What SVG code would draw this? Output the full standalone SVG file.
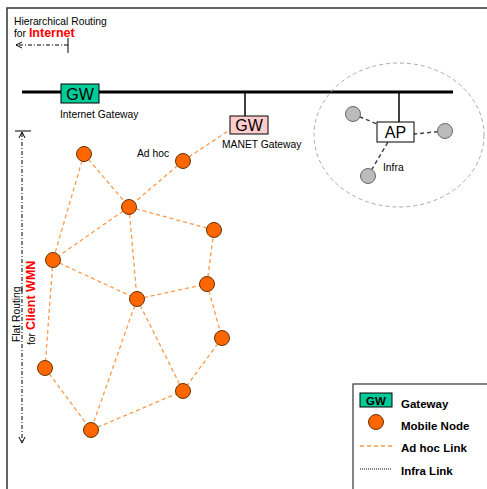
<svg xmlns="http://www.w3.org/2000/svg" width="487" height="489" viewBox="0 0 487 489">
<style>
text{font-family:"Liberation Sans",Arial,sans-serif;fill:#000}
.sm{font-size:10.3px}
.gw{font-size:16px}
.lg{font-size:11.5px;font-weight:bold}
.adhoc{stroke:#FF9A4A;stroke-width:1.3;stroke-dasharray:4,3;fill:none}
.infra{stroke:#444;stroke-width:1.5;stroke-dasharray:4,3;fill:none}
.mn{fill:#FF6600;stroke:#663300;stroke-width:1}
.gr{fill:#BBBBBB;stroke:#666;stroke-width:1}
.dd{stroke:#000;stroke-width:1;stroke-dasharray:4,2,1,2;fill:none}
</style>
<defs>
<marker id="ah" markerWidth="8" markerHeight="8" refX="7" refY="4" orient="auto" markerUnits="userSpaceOnUse">
<path d="M1,1 L7,4 L1,7" fill="none" stroke="#000" stroke-width="1"/>
</marker>
</defs>
<rect width="487" height="489" fill="#fff"/>
<path d="M7,489 V8 H487" fill="none" stroke="#333" stroke-width="1.5"/>

<g id="hier-routing">
<text class="sm" x="14" y="25">Hierarchical Routing</text>
<text class="sm" x="14" y="37">for <tspan style="fill:#f00;font-weight:bold;font-size:12.5px">Internet</tspan></text>
<line class="dd" x1="68" y1="45" x2="16" y2="45" marker-end="url(#ah)"/>
<line x1="68" y1="38" x2="68" y2="53" stroke="#000" stroke-width="1"/>
</g>

<g id="flat-routing">
<line x1="15" y1="131" x2="31" y2="131" stroke="#000" stroke-width="1"/>
<line class="dd" x1="22" y1="290" x2="22" y2="132" marker-end="url(#ah)"/>
<line class="dd" x1="22" y1="290" x2="22" y2="443" marker-end="url(#ah)"/>
<text class="sm" transform="translate(20,342) rotate(-90)">Flat Routing</text>
<text class="sm" transform="translate(35,345) rotate(-90)">for <tspan style="fill:#f00;font-weight:bold;font-size:12.5px">Client WMN</tspan></text>
</g>

<g id="bus">
<line x1="22" y1="92" x2="453" y2="92" stroke="#000" stroke-width="3"/>
<line x1="245" y1="92" x2="245" y2="116" stroke="#000" stroke-width="1.5"/>
<line x1="399" y1="92" x2="399" y2="122" stroke="#000" stroke-width="1.5"/>
</g>

<g id="connectors">
<line class="adhoc" x1="84" y1="154" x2="129" y2="207"/>
<line class="adhoc" x1="84" y1="154" x2="53" y2="260"/>
<line class="adhoc" x1="183" y1="161" x2="129" y2="207"/>
<line class="adhoc" x1="183" y1="161" x2="231" y2="129"/>
<line class="adhoc" x1="129" y1="207" x2="53" y2="260"/>
<line class="adhoc" x1="129" y1="207" x2="214" y2="230"/>
<line class="adhoc" x1="129" y1="207" x2="137" y2="299"/>
<line class="adhoc" x1="53" y1="260" x2="137" y2="299"/>
<line class="adhoc" x1="137" y1="299" x2="207" y2="284"/>
<line class="adhoc" x1="207" y1="284" x2="214" y2="230"/>
<line class="adhoc" x1="207" y1="284" x2="222" y2="338"/>
<line class="adhoc" x1="222" y1="338" x2="183" y2="391"/>
<line class="adhoc" x1="137" y1="299" x2="183" y2="391"/>
<line class="adhoc" x1="137" y1="299" x2="91" y2="430"/>
<line class="adhoc" x1="53" y1="260" x2="45" y2="368"/>
<line class="adhoc" x1="45" y1="368" x2="91" y2="430"/>
<line class="adhoc" x1="91" y1="430" x2="183" y2="391"/>
<line class="infra" x1="353" y1="114" x2="377" y2="124"/>
<line class="infra" x1="445" y1="131" x2="414" y2="134"/>
<line class="infra" x1="368" y1="176" x2="388" y2="142"/>
</g>

<g id="infra-cell">
<ellipse cx="399" cy="135" rx="85" ry="72" fill="none" stroke="#AAA" stroke-width="1" stroke-dasharray="4,3"/>
</g>

<g id="internet-gw">
<rect x="61" y="84" width="38" height="19" fill="#00CC99" stroke="#000" stroke-width="1"/>
<text class="gw" x="80" y="99.5" text-anchor="middle">GW</text>
<text class="sm" x="60" y="118">Internet Gateway</text>
</g>

<g id="manet-gw">
<rect x="230" y="116" width="38" height="18" fill="#FFCCCC" stroke="#000" stroke-width="1"/>
<text class="gw" x="249" y="131" text-anchor="middle">GW</text>
<text class="sm" x="222" y="148">MANET Gateway</text>
</g>

<g id="ap">
<rect x="377" y="122" width="37" height="20" fill="#fff" stroke="#000" stroke-width="1"/>
<text class="gw" x="395.5" y="138" text-anchor="middle">AP</text>
<text class="sm" x="383" y="171">Infra</text>
</g>
<g id="c1"><circle class="gr" cx="353" cy="114" r="7.5"/></g>
<g id="c2"><circle class="gr" cx="445" cy="131" r="7.5"/></g>
<g id="c3"><circle class="gr" cx="368" cy="176" r="7.5"/></g>

<text class="sm" x="137" y="157">Ad hoc</text>
<g id="n1"><circle class="mn" cx="84" cy="154" r="7.5"/></g>
<g id="n2"><circle class="mn" cx="183" cy="161" r="7.5"/></g>
<g id="n3"><circle class="mn" cx="129" cy="207" r="7.5"/></g>
<g id="n4"><circle class="mn" cx="214" cy="230" r="7.5"/></g>
<g id="n5"><circle class="mn" cx="53" cy="260" r="7.5"/></g>
<g id="n6"><circle class="mn" cx="207" cy="284" r="7.5"/></g>
<g id="n7"><circle class="mn" cx="137" cy="299" r="7.5"/></g>
<g id="n8"><circle class="mn" cx="222" cy="338" r="7.5"/></g>
<g id="n9"><circle class="mn" cx="45" cy="368" r="7.5"/></g>
<g id="n10"><circle class="mn" cx="183" cy="391" r="7.5"/></g>
<g id="n11"><circle class="mn" cx="91" cy="430" r="7.5"/></g>

<g id="legend">
<rect x="353" y="384" width="140" height="110" fill="#fff" stroke="#333" stroke-width="1.2"/>
<rect x="360" y="393" width="32" height="14" fill="#00CC99" stroke="#000" stroke-width="1"/>
<text x="376" y="405" text-anchor="middle" style="font-size:11.5px;font-weight:bold">GW</text>
<text class="lg" x="401" y="408">Gateway</text>
<circle class="mn" cx="376" cy="422" r="7.5"/>
<text class="lg" x="401" y="430">Mobile Node</text>
<line class="adhoc" x1="360" y1="446" x2="392" y2="446"/>
<text class="lg" x="401" y="452">Ad hoc Link</text>
<line x1="360" y1="469" x2="392" y2="469" stroke="#000" stroke-width="1" stroke-dasharray="1,1"/>
<text class="lg" x="401" y="475">Infra Link</text>
</g>
</svg>
